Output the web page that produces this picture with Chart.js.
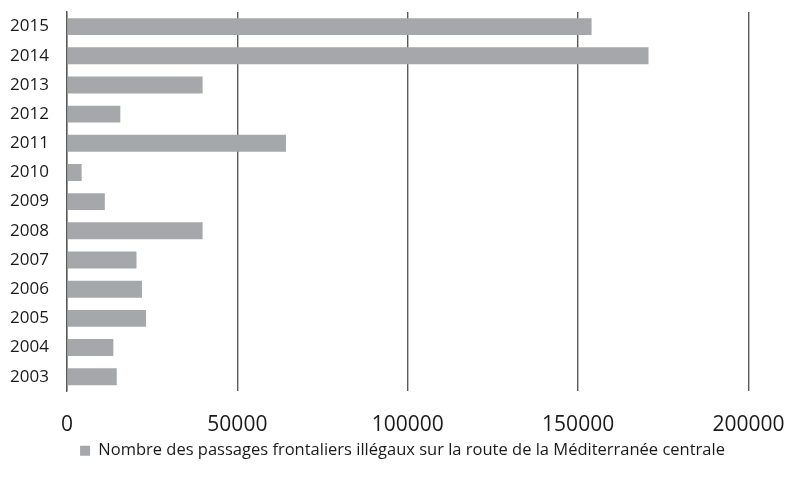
<!DOCTYPE html>
<html>
<head>
<meta charset="utf-8">
<script src="https://cdn.jsdelivr.net/npm/chart.js@4/dist/chart.umd.min.js"></script>
<style>
  html, body { margin: 0; padding: 0; background: #ffffff; }
  #wrap { width: 789px; height: 479px; position: relative; }
</style>
</head>
<body>
<div id="wrap"><canvas id="c" width="789" height="479"></canvas></div>
<script>
// Irregular border crossings, Central Mediterranean route, per year
const years = ['2015', '2014', '2013', '2012', '2011', '2010', '2009', '2008', '2007', '2006', '2005', '2004', '2003'];
const crossings = [153946, 170664, 39800, 15650, 64261, 4300, 11100, 39800, 20400, 22000, 23200, 13600, 14600];
const seriesLabel = 'Nombre des passages frontaliers illégaux sur la route de la Méditerranée centrale';
const xTicks = [0, 50000, 100000, 150000, 200000];

const barColor = '#a6a7aa';
const gridColor = '#5a5a5a';
const textColor = '#1a1a1a';

// Centre the legend under the plot area rather than the whole canvas
const legendShift = {
  id: 'legendShift',
  beforeDraw(chart) {
    const lg = chart.legend;
    if (lg && !lg._shifted) {
      lg.left += 14;
      lg.right += 14;
      lg._shifted = true;
    }
  }
};

new Chart(document.getElementById('c'), {
  type: 'bar',
  data: {
    labels: years,
    datasets: [{
      label: seriesLabel,
      data: crossings,
      backgroundColor: barColor,
      borderWidth: 0,
      barPercentage: 0.58,
      categoryPercentage: 1.0
    }]
  },
  plugins: [legendShift],
  options: {
    indexAxis: 'y',
    responsive: false,
    animation: false,
    layout: { padding: { top: 12, right: 12, left: 0, bottom: 10 } },
    plugins: {
      tooltip: { enabled: false },
      legend: {
        position: 'bottom',
        labels: {
          color: textColor,
          font: { family: "'Open Sans', sans-serif", size: 16.5 },
          boxWidth: 10,
          boxHeight: 10,
          padding: 5
        }
      }
    },
    scales: {
      x: {
        min: 0,
        max: 200000,
        afterBuildTicks: (scale) => { scale.ticks = xTicks.map(v => ({ value: v })); },
        afterFit: (scale) => { scale.paddingRight = 40.5; },
        ticks: {
          color: textColor,
          font: { family: "'Open Sans', sans-serif", size: 21 },
          padding: 0,
          maxRotation: 0,
          callback: (v) => String(v)
        },
        grid: { color: gridColor, lineWidth: 1.4, drawTicks: true, tickLength: 21, tickColor: 'rgba(0,0,0,0)' },
        border: { display: false }
      },
      y: {
        afterFit: (scale) => { scale.width = 67; },
        ticks: {
          color: textColor,
          font: { family: "'Open Sans', sans-serif", size: 17 },
          padding: 0
        },
        grid: { display: false, drawTicks: true, tickLength: 18 },
        border: { display: true, color: gridColor, width: 1.4 }
      }
    }
  }
});
</script>
</body>
</html>
